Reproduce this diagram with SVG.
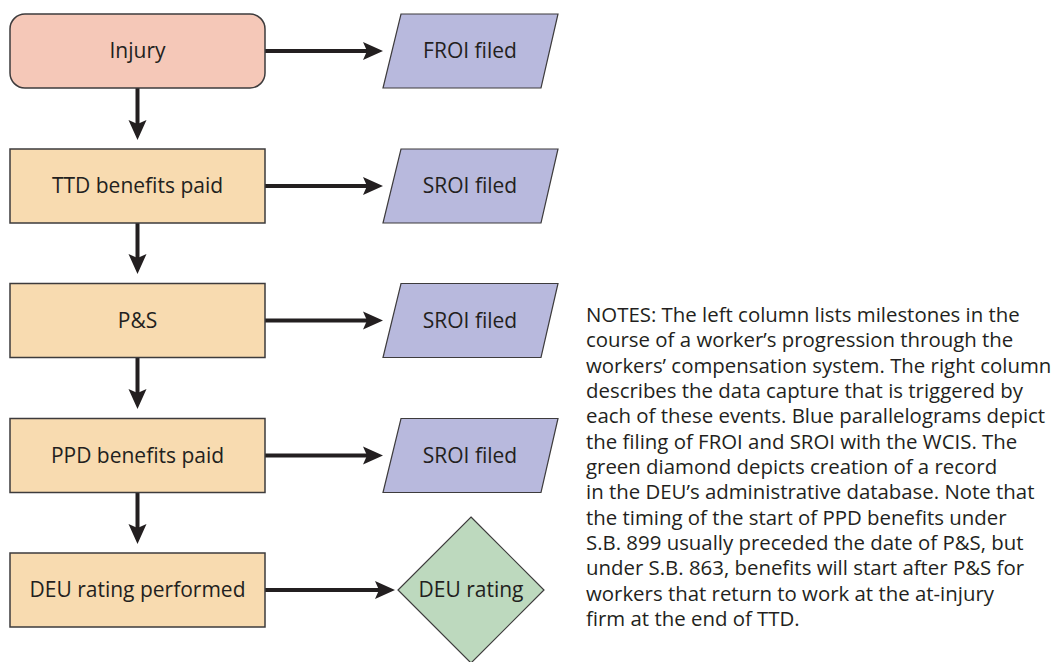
<svg xmlns="http://www.w3.org/2000/svg" width="1060" height="662" viewBox="0 0 1060 662">
<style>
.box{fill:#F8DBB0;stroke:#3d3b3c;stroke-width:1.5}
.start{fill:#F5C8B8;stroke:#3d3b3c;stroke-width:1.5}
.para{fill:#B8B9DD;stroke:#3d3b3c;stroke-width:1.2}
.dia{fill:#BDD9BE;stroke:#3d3b3c;stroke-width:1.2}
.lbl{font-family:"Open Sans","Noto Sans","Liberation Sans",sans-serif;font-size:21px;fill:#231f20;text-anchor:middle}
.note{font-family:"Open Sans","Noto Sans","Liberation Sans",sans-serif;font-size:20.4px;fill:#231f20}
.conn{stroke:#231f20;stroke-width:4;fill:none;marker-end:url(#ah)}
</style>
<defs>
<marker id="ah" viewBox="0 0 20 20" refX="4" refY="10" markerWidth="20" markerHeight="20" markerUnits="userSpaceOnUse" orient="auto">
<path d="M0,1 L20,10 L0,19 L4,10 z" fill="#231f20"/>
</marker>
</defs>
<rect width="1060" height="662" fill="#ffffff"/>
<g id="connectors">
<line class="conn" x1="265" y1="51" x2="367" y2="51"/>
<line class="conn" x1="265" y1="186" x2="367" y2="186"/>
<line class="conn" x1="265" y1="320.5" x2="367" y2="320.5"/>
<line class="conn" x1="265" y1="455.5" x2="367" y2="455.5"/>
<line class="conn" x1="265" y1="590" x2="379" y2="590"/>
<line class="conn" x1="137.5" y1="88" x2="137.5" y2="124"/>
<line class="conn" x1="137.5" y1="223" x2="137.5" y2="258"/>
<line class="conn" x1="137.5" y1="358" x2="137.5" y2="393"/>
<line class="conn" x1="137.5" y1="493" x2="137.5" y2="528"/>
</g>
<g id="injury"><rect class="start" x="10" y="14" width="255" height="74" rx="15"/><text class="lbl" x="137.5" y="58">Injury</text></g>
<g id="ttd"><rect class="box" x="10" y="149" width="255" height="74"/><text class="lbl" x="137.5" y="193">TTD benefits paid</text></g>
<g id="ps"><rect class="box" x="10" y="283.5" width="255" height="74"/><text class="lbl" x="137.5" y="327.5">P&amp;S</text></g>
<g id="ppd"><rect class="box" x="10" y="418.5" width="255" height="74"/><text class="lbl" x="137.5" y="462.5">PPD benefits paid</text></g>
<g id="deu"><rect class="box" x="10" y="553" width="255" height="74"/><text class="lbl" x="137.5" y="597">DEU rating performed</text></g>
<g id="froi"><polygon class="para" points="401,14 558,14 541,88 383,88"/><text class="lbl" x="470" y="58">FROI filed</text></g>
<g id="sroi1"><polygon class="para" points="401,149 558,149 541,223 383,223"/><text class="lbl" x="470" y="193">SROI filed</text></g>
<g id="sroi2"><polygon class="para" points="401,283.5 558,283.5 541,357.5 383,357.5"/><text class="lbl" x="470" y="327.5">SROI filed</text></g>
<g id="sroi3"><polygon class="para" points="401,418.5 558,418.5 541,492.5 383,492.5"/><text class="lbl" x="470" y="462.5">SROI filed</text></g>
<g id="deurating"><polygon class="dia" points="471,517 544,590 471,663 398,590"/><text class="lbl" x="471" y="597">DEU rating</text></g>
<g id="notes">
<text class="note" x="586" y="322">NOTES: The left column lists milestones in the</text>
<text class="note" x="586" y="347.3">course of a worker’s progression through the</text>
<text class="note" x="586" y="372.7">workers’ compensation system. The right column</text>
<text class="note" x="586" y="398">describes the data capture that is triggered by</text>
<text class="note" x="586" y="423.3">each of these events. Blue parallelograms depict</text>
<text class="note" x="586" y="448.7">the filing of FROI and SROI with the WCIS. The</text>
<text class="note" x="586" y="474">green diamond depicts creation of a record</text>
<text class="note" x="586" y="499.3">in the DEU’s administrative database. Note that</text>
<text class="note" x="586" y="524.7">the timing of the start of PPD benefits under</text>
<text class="note" x="586" y="550">S.B. 899 usually preceded the date of P&amp;S, but</text>
<text class="note" x="586" y="575.3">under S.B. 863, benefits will start after P&amp;S for</text>
<text class="note" x="586" y="600.7">workers that return to work at the at-injury</text>
<text class="note" x="586" y="626">firm at the end of TTD.</text>
</g>
</svg>
